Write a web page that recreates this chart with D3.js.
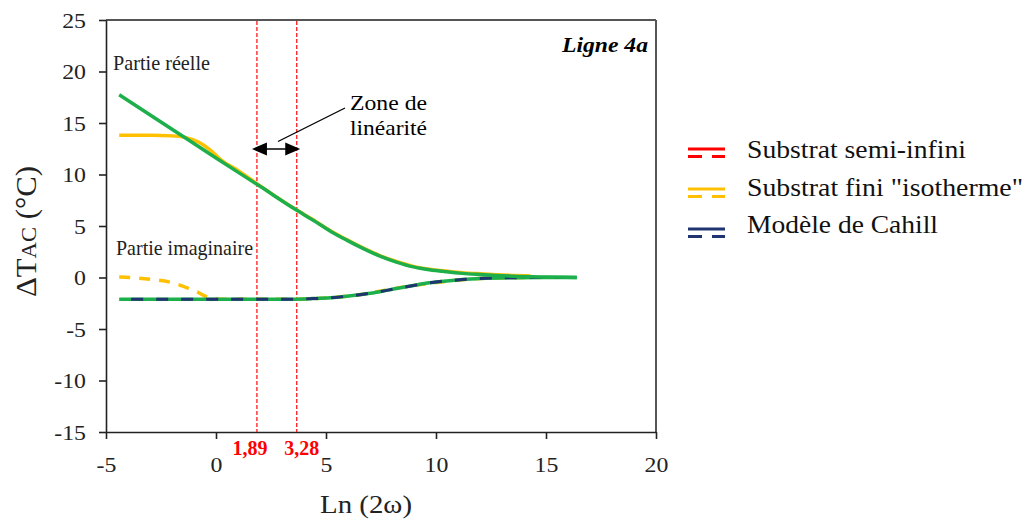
<!DOCTYPE html>
<html><head><meta charset="utf-8">
<script src="https://cdn.jsdelivr.net/npm/d3@7"></script>
<style>
body{margin:0;background:#fff;}
svg text{font-family:"Liberation Serif","Times New Roman",Times,serif !important;}
</style></head>
<body><svg id="c" width="1025" height="522"></svg>
<script>
// ---- data ----
const xTicks = [-5, 0, 5, 10, 15, 20];
const yTicks = [-15, -10, -5, 0, 5, 10, 15, 20, 25];
const zoneLines = [1.86, 3.67];          // positions of the dashed red lines
const zoneLabels = ["1,89", "3,28"];
const greenReal = [[-4.4,17.75],[-2,14.4],[0,11.6],[2,8.85],[3.6,6.62],[4.4,5.58],[5.2,4.5],[5.94,3.63],[6.7,2.8],[7.45,2.07],[8.2,1.5],[8.97,1.03],[9.7,0.75],[10.48,0.55],[11.2,0.4],[12,0.29],[13.5,0.13],[15,0.05],[16.4,0]];
const yellowReal = [[-4.4,13.8],[-3,13.8],[-2,13.75],[-1.4,13.6],[-0.8,13.15],[-0.3,12.45],[0.3,11.3],[1,10.4],[2,8.9],[3.6,6.65],[4.4,5.62],[5.2,4.55],[5.94,3.68],[6.7,2.85],[7.45,2.12],[8.2,1.55],[8.97,1.08],[9.7,0.8],[10.48,0.62],[11.2,0.47],[12,0.36],[13.5,0.2],[14.3,0.15]];
const greenImag = [[-4.4,-2.1],[0,-2.1],[3.6,-2.1],[4.4,-2.05],[5.2,-1.97],[5.94,-1.82],[6.7,-1.62],[7.45,-1.38],[8.2,-1.07],[8.97,-0.78],[9.7,-0.52],[10.48,-0.33],[11.2,-0.2],[12,-0.1],[13.5,-0.02],[15,0],[16.4,0]];
const cahillImag = [[-4.4,-2.1],[0,-2.1],[3.6,-2.1],[4.4,-2.05],[5.2,-1.97],[5.94,-1.82],[6.7,-1.62],[7.45,-1.38],[8.2,-1.07],[8.97,-0.78],[9.7,-0.52],[10.48,-0.33],[11.2,-0.2],[12,-0.1],[13.5,-0.02],[15,0],[16.2,0]];
const yellowImag = [[-4.4,0.05],[-3,-0.17],[-1.86,-0.58],[-1.2,-1.1],[-0.8,-1.46],[-0.5,-1.8],[-0.2,-2.05],[0.2,-2.1],[3.6,-2.1],[5.94,-1.82],[8.97,-0.78],[12,-0.1],[14.3,0]];
const legendLabels = ["Substrat semi-infini", "Substrat fini \"isotherme\"", "Modèle de Cahill"];
const legendColors = ["#FF0000", "#FFC000", "#1F3470"];

// ---- layout ----
const svg = d3.select("#c");
const L = 106, R = 656, T = 20, B = 432;
const x = d3.scaleLinear().domain([-5, 20]).range([L, R]);
const y = d3.scaleLinear().domain([-15, 25]).range([B, T]);
const GREEN = "#1DAF4B", YEL = "#FFC000", NAVY = "#1F3470";

// frame top/right
svg.append("line").attr("x1", L).attr("x2", R).attr("y1", T).attr("y2", T).attr("stroke", "#555").attr("stroke-width", 2);
svg.append("line").attr("x1", R).attr("x2", R).attr("y1", T).attr("y2", B).attr("stroke", "#555").attr("stroke-width", 2);

// axes
const ax = svg.append("g").attr("transform", `translate(0,${B})`)
  .call(d3.axisBottom(x).tickValues(xTicks).tickSize(7).tickPadding(17).tickSizeOuter(0).tickFormat(d => String(d)));
const ay = svg.append("g").attr("transform", `translate(${L},0)`)
  .call(d3.axisLeft(y).tickValues(yTicks).tickSize(7).tickPadding(13).tickSizeOuter(0).tickFormat(d => String(d)));
[ax, ay].forEach(g => {
  g.selectAll("path,line").attr("stroke", "#222").attr("stroke-width", 1.6);
  g.selectAll("text").attr("font-size", 22).attr("fill", "#222")
    .each(function () { const w = this.getComputedTextLength(); this.setAttribute("textLength", (w * 1.08).toFixed(1)); this.setAttribute("lengthAdjust", "spacingAndGlyphs"); });
});

// red dashed zone lines
svg.selectAll(".zl").data(zoneLines).join("line")
  .attr("x1", d => x(d)).attr("x2", d => x(d)).attr("y1", T + 1).attr("y2", B)
  .attr("stroke", "#FF1A1A").attr("stroke-width", 1.3).attr("stroke-dasharray", "4,2");
svg.selectAll(".zt").data(zoneLabels).join("text")
  .attr("x", (d, i) => x(zoneLines[i]) + (i === 0 ? -7 : 5)).attr("y", 455)
  .attr("text-anchor", "middle").attr("font-size", 20).attr("font-weight", "bold").attr("fill", "#FF0000")
  .text(d => d);

// curves
const line = d3.line().x(d => x(d[0])).y(d => y(d[1])).curve(d3.curveMonotoneX);
svg.append("path").attr("d", line(yellowReal)).attr("fill", "none").attr("stroke", YEL).attr("stroke-width", 3.5);
svg.append("path").attr("d", line(yellowImag)).attr("fill", "none").attr("stroke", YEL).attr("stroke-width", 3.5).attr("stroke-dasharray", "11,9");
svg.append("path").attr("d", line(greenImag)).attr("fill", "none").attr("stroke", GREEN).attr("stroke-width", 3.5);
svg.append("path").attr("d", line(cahillImag)).attr("fill", "none").attr("stroke", NAVY).attr("stroke-width", 3).attr("stroke-dasharray", "12,13").attr("stroke-dashoffset", -12);
svg.append("path").attr("d", line(greenReal)).attr("fill", "none").attr("stroke", GREEN).attr("stroke-width", 3.5);

// text annotations
svg.append("text").attr("x", 113).attr("y", 70).attr("font-size", 21).attr("textLength", 97).attr("lengthAdjust", "spacingAndGlyphs").attr("fill", "#222").text("Partie réelle");
svg.append("text").attr("x", 116).attr("y", 255).attr("font-size", 21).attr("textLength", 137).attr("lengthAdjust", "spacingAndGlyphs").attr("fill", "#222").text("Partie imaginaire");
svg.append("text").attr("x", 562).attr("y", 52).attr("font-size", 22).attr("font-weight", "bold").attr("font-style", "italic").attr("textLength", 86).attr("lengthAdjust", "spacingAndGlyphs").text("Ligne 4a");
svg.append("text").attr("x", 350).attr("y", 110).attr("font-size", 22).attr("textLength", 77).attr("lengthAdjust", "spacingAndGlyphs").text("Zone de");
svg.append("text").attr("x", 350).attr("y", 135).attr("font-size", 22).attr("textLength", 77).attr("lengthAdjust", "spacingAndGlyphs").text("linéarité");

// double arrow + leader
const ay0 = 149, xa = x(zoneLines[0]) - 5, xb = x(zoneLines[1]) + 3.5;
svg.append("line").attr("x1", xa + 12).attr("x2", xb - 12).attr("y1", ay0).attr("y2", ay0).attr("stroke", "#000").attr("stroke-width", 1.5);
svg.append("path").attr("d", `M${xa},${ay0} L${xa + 15},${ay0 - 6.5} L${xa + 15},${ay0 + 6.5} Z`).attr("fill", "#000");
svg.append("path").attr("d", `M${xb},${ay0} L${xb - 15},${ay0 - 6.5} L${xb - 15},${ay0 + 6.5} Z`).attr("fill", "#000");
svg.append("line").attr("x1", 278).attr("y1", 141.5).attr("x2", 345).attr("y2", 108).attr("stroke", "#000").attr("stroke-width", 1.3);

// axis titles
svg.append("text").attr("x", 366).attr("y", 513).attr("text-anchor", "middle").attr("font-size", 26).attr("textLength", 92).attr("lengthAdjust", "spacingAndGlyphs").attr("fill", "#222").text("Ln (2ω)");
const yl = svg.append("text").attr("transform", "translate(36,297) rotate(-90)").attr("font-size", 30).attr("textLength", 131).attr("lengthAdjust", "spacingAndGlyphs").attr("fill", "#222");
yl.append("tspan").text("ΔT");
yl.append("tspan").attr("font-size", 22).text("AC");
yl.append("tspan").text(" (°C)");

// legend
const lg = svg.append("g");
legendLabels.forEach((lab, i) => {
  const ty = 149 + i * 40, tx = 688;
  lg.append("line").attr("x1", tx).attr("x2", tx + 37).attr("y1", ty).attr("y2", ty).attr("stroke", legendColors[i]).attr("stroke-width", 3);
  lg.append("line").attr("x1", tx).attr("x2", tx + 37).attr("y1", ty + 7.5).attr("y2", ty + 7.5).attr("stroke", legendColors[i]).attr("stroke-width", 3).attr("stroke-dasharray", "14,10");
});
const lw = [219, 276, 191];
legendLabels.forEach((lab, i) => {
  lg.append("text").attr("x", 747).attr("y", 158 + i * 37.5).attr("font-size", 25).attr("textLength", lw[i]).attr("lengthAdjust", "spacingAndGlyphs").attr("fill", "#111").text(lab);
});
</script></body></html>
